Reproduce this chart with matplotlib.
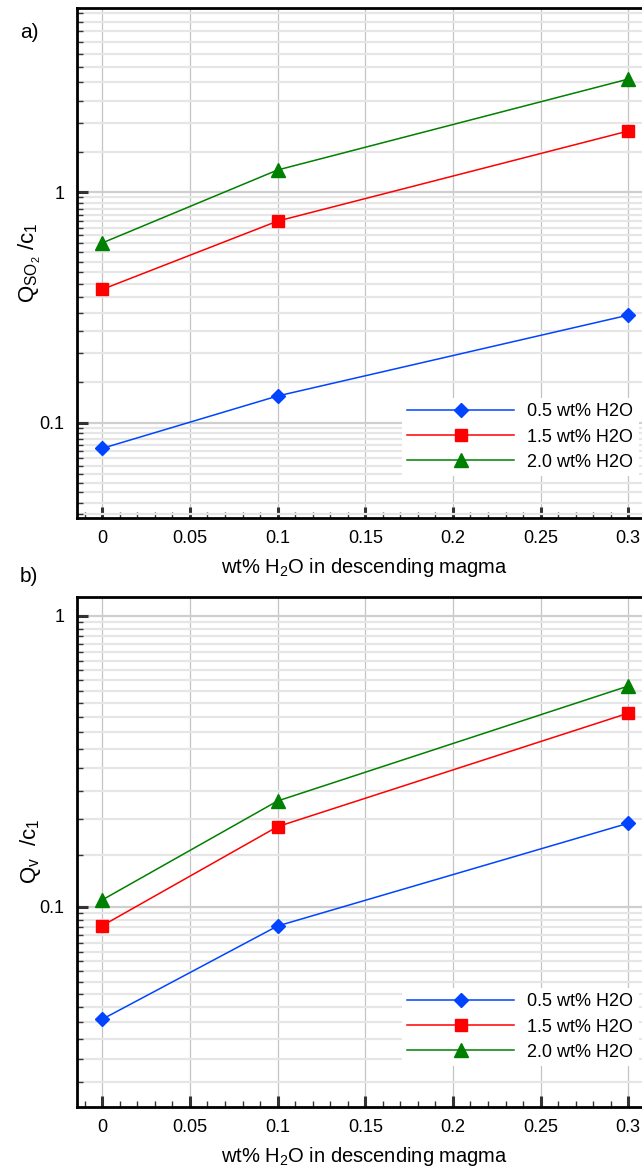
import numpy as np
import matplotlib
matplotlib.use("Agg")
import matplotlib.pyplot as plt
from matplotlib import ticker

plt.rcParams['font.family'] = ['Liberation Sans', 'DejaVu Sans']
plt.rcParams['mathtext.fontset'] = 'custom'
plt.rcParams['mathtext.rm'] = 'Liberation Sans'
plt.rcParams['mathtext.it'] = 'Liberation Sans'

# x values: wt% H2O in descending magma
x = [0, 0.1, 0.3]

# panel a) Q_SO2 / c1
a_05 = [0.0774, 0.1306, 0.293]
a_15 = [0.379, 0.75, 1.845]
a_20 = [0.603, 1.25, 3.10]

# panel b) Q_v / c1
b_05 = [0.041, 0.0858, 0.1936]
b_15 = [0.086, 0.1885, 0.463]
b_20 = [0.1055, 0.231, 0.574]

labels = ['0.5 wt% H2O', '1.5 wt% H2O', '2.0 wt% H2O']
colors = ['#0044ff', '#ff0000', '#008000']
markers = ['D', 's', '^']
msizes = [7, 8.5, 9.5]

W, H = 642, 1169
fig = plt.figure(figsize=(W / 100, H / 100), dpi=100)


def setup(ax, ylim, series, ylabel, tag, tag_y, leg_top):
    for ys, lab, c, m, ms in zip(series, labels, colors, markers, msizes):
        ax.plot(x, ys, color=c, marker=m, markersize=ms, lw=1.1,
                label=lab, zorder=3, clip_on=False)
    ax.set_yscale('log')
    ax.set_xlim(-0.0146, 0.32)
    ax.set_ylim(*ylim)

    ax.xaxis.set_major_locator(ticker.MultipleLocator(0.05))
    ax.xaxis.set_minor_locator(ticker.MultipleLocator(0.01))
    ax.xaxis.set_major_formatter(ticker.FuncFormatter(lambda v, _: f"{v:g}"))
    ax.yaxis.set_major_locator(ticker.LogLocator(base=10, subs=(1.0,)))
    ax.yaxis.set_minor_locator(ticker.LogLocator(base=10, subs=np.arange(1.5, 10, 0.5)))
    ax.yaxis.set_major_formatter(ticker.FuncFormatter(lambda v, _: f"{v:g}"))
    ax.yaxis.set_minor_formatter(ticker.NullFormatter())

    ax.set_axisbelow(True)
    ax.grid(which='both', axis='y', color='#e6e6e6', lw=1.6)
    ax.grid(which='major', axis='y', color='#cfcfcf', lw=1.6)
    ax.grid(which='major', axis='x', color='#c4c4c4', lw=0.9)

    ax.tick_params(which='both', direction='in', top=False, right=False,
                   labelsize=13, colors='#333333', labelcolor='black')
    ax.tick_params(which='major', length=8, width=2.2, pad=9)
    ax.tick_params(which='minor', length=4, width=1.0)

    for s in ['left', 'bottom', 'top']:
        ax.spines[s].set_linewidth(2)
    ax.spines['right'].set_visible(False)

    ax.set_xlabel(r'wt% H$_2$O in descending magma', fontsize=14.5)
    ax.xaxis.set_label_coords(0.49, -0.076)
    ax.set_ylabel(ylabel, fontsize=16)
    ax.yaxis.set_label_coords(-0.058, 0.5)

    fig.text(20 / W, 1 - tag_y / H, tag, fontsize=15, va='center', ha='left')

    ax.legend(loc='upper left', bbox_to_anchor=(402 / W, 1 - leg_top / H),
              bbox_transform=fig.transFigure, fontsize=13, frameon=True,
              facecolor='white', edgecolor='none', framealpha=1, fancybox=False,
              handlelength=5.9, handletextpad=0.75, labelspacing=0.45,
              borderpad=0.3, borderaxespad=0, numpoints=1)


ax1 = fig.add_axes([76.7 / W, 1 - 517.7 / H, 586.6 / W, 509.4 / H])
setup(ax1, (0.0387, 6.29), [a_05, a_15, a_20],
      r'$\mathregular{Q_{SO_2}}$ /$\mathregular{c_1}$', 'a)', 33, 398)

ax2 = fig.add_axes([76.7 / W, 1 - 1106.7 / H, 586.6 / W, 510.0 / H])
setup(ax2, (0.0205, 1.165), [b_05, b_15, b_20],
      r'$\mathregular{Q_v}$  /$\mathregular{c_1}$', 'b)', 577, 988)

fig.savefig('out.png', dpi=100)
